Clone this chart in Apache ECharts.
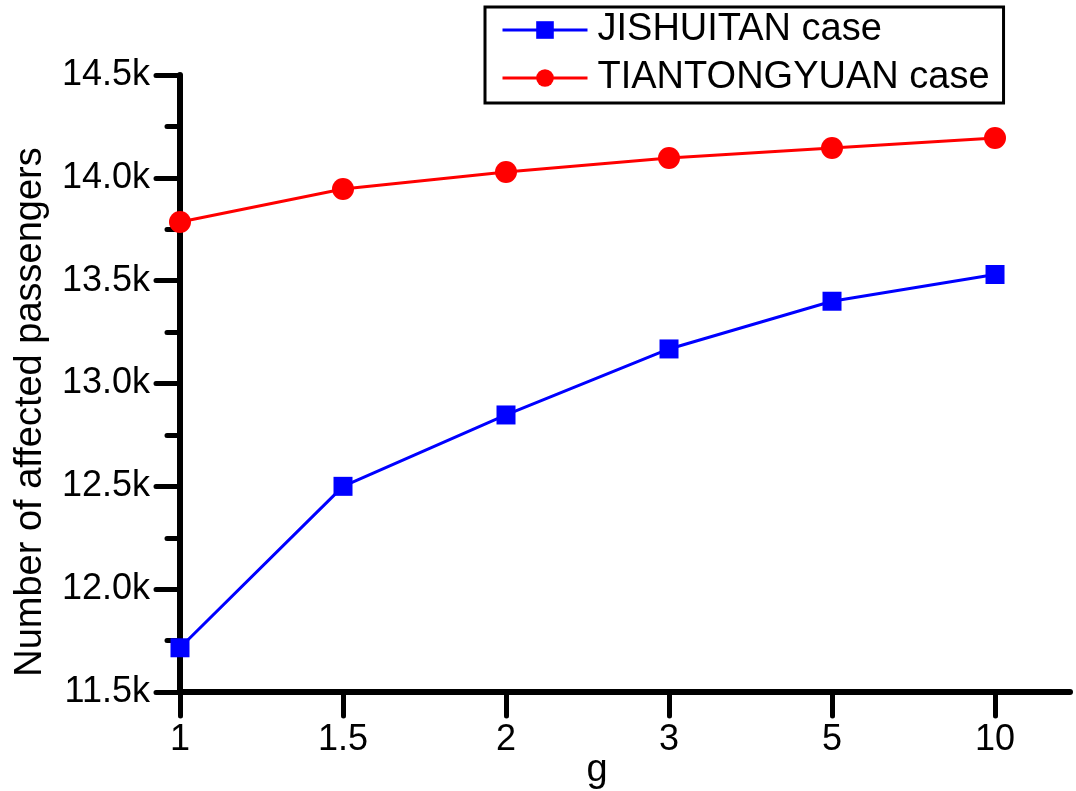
<!DOCTYPE html>
<html lang="en">
<head>
    <meta charset="UTF-8">
    <title>affected passengers</title>
    <script src="https://cdn.jsdelivr.net/npm/echarts@6/dist/echarts.min.js"></script>
    <style>
        html, body {
            margin: 0;
            padding: 0;
            background: #fff;
        }
    </style>
</head>
<body>
<div id="main" style="width: 1076px;height: 791px"></div>
<script>
    // g values, evenly spaced on the x axis
    var gLabels = ['1', '1.5', '2', '3', '5', '10'];
    var jishuitan = [11715, 12500, 12847, 13168, 13400, 13530];
    var tiantongyuan = [13785, 13946, 14028, 14096, 14145, 14194];
    var yTicks = [11500, 12000, 12500, 13000, 13500, 14000, 14500];

    var font = "'Liberation Sans', Arial, sans-serif";

    function toPairs(arr) {
        return arr.map(function (v, i) {
            return [i, v];
        });
    }

    var tickIdx = gLabels.map(function (l, i) {
        return i;
    });

    var myChart = echarts.init(document.getElementById('main'));
    myChart.setOption({
        animation: false,
        grid: {left: 180, right: 6, top: 75, bottom: 99, outerBoundsMode: 'none'},
        legend: {
            orient: 'vertical',
            left: 485,
            top: 7,
            padding: [4, 14, 6, 16],
            itemGap: 10,
            itemWidth: 85,
            itemHeight: 22,
            borderColor: '#000',
            borderWidth: 3,
            lineStyle: {width: 3},
            textStyle: {fontFamily: font, fontSize: 38, color: '#000', padding: [0, 0, 0, 5]},
            data: ['JISHUITAN case', 'TIANTONGYUAN case']
        },
        xAxis: {
            type: 'value',
            min: 0,
            max: 5.46,
            interval: 1,
            name: 'g',
            nameLocation: 'middle',
            nameGap: 60,
            nameMoveOverlap: false,
            nameTextStyle: {fontFamily: font, fontSize: 38, color: '#000', padding: [0, 56, 0, 0]},
            splitLine: {show: false},
            axisLine: {lineStyle: {color: '#000', width: 6}},
            axisTick: {
                customValues: tickIdx,
                length: 24,
                lineStyle: {color: '#000', width: 5, cap: 'round'}
            },
            axisLabel: {
                customValues: tickIdx,
                margin: 30,
                fontFamily: font,
                fontSize: 36,
                color: '#000',
                formatter: function (v) {
                    return gLabels[Math.round(v)];
                }
            }
        },
        yAxis: {
            type: 'value',
            min: yTicks[0],
            max: yTicks[yTicks.length - 1],
            interval: 500,
            name: 'Number of affected passengers',
            nameLocation: 'middle',
            nameGap: 130,
            nameTextStyle: {fontFamily: font, fontSize: 38, color: '#000', padding: [0, 57, 0, 0]},
            splitLine: {show: false},
            axisLine: {show: true, lineStyle: {color: '#000', width: 6}},
            axisTick: {show: true, length: 24, lineStyle: {color: '#000', width: 5, cap: 'round'}},
            minorTick: {show: true, splitNumber: 2, length: 13, lineStyle: {color: '#000', width: 5, cap: 'round'}},
            axisLabel: {
                margin: 30,
                fontFamily: font,
                fontSize: 36,
                color: '#000',
                formatter: function (v) {
                    return (v / 1000).toFixed(1) + 'k';
                }
            }
        },
        series: [
            {
                name: 'JISHUITAN case',
                type: 'line',
                data: toPairs(jishuitan),
                symbol: 'rect',
                symbolSize: 19,
                itemStyle: {color: '#0000ff'},
                lineStyle: {color: '#0000ff', width: 3}
            },
            {
                name: 'TIANTONGYUAN case',
                type: 'line',
                data: toPairs(tiantongyuan),
                symbol: 'circle',
                symbolSize: 22,
                itemStyle: {color: '#ff0000'},
                lineStyle: {color: '#ff0000', width: 3}
            }
        ]
    });
</script>
</body>
</html>
